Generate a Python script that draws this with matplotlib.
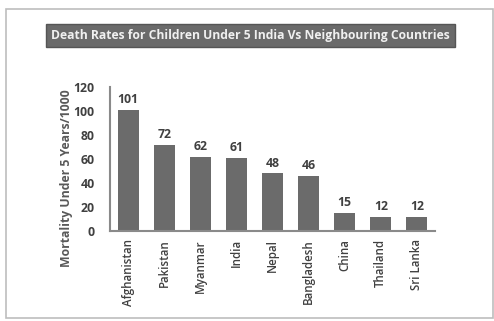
import matplotlib
matplotlib.use("Agg")
import matplotlib.pyplot as plt
from matplotlib.patches import Rectangle

# data
countries = ["Afghanistan", "Pakistan", "Myanmar", "India", "Nepal",
             "Bangladesh", "China", "Thailand", "Sri Lanka"]
mortality = [101, 72, 62, 61, 48, 46, 15, 12, 12]
yticks = [0, 20, 40, 60, 80, 100, 120]

plt.rcParams['font.family'] = ['Open Sans', 'DejaVu Sans']

fig = plt.figure(figsize=(4.94, 3.21), dpi=100)
fig.patch.set_facecolor("white")

# outer frame like the screenshot
fig.patches.append(Rectangle((6/494, 1-318/321), 487/494, 309/321,
                             transform=fig.transFigure, fill=False,
                             edgecolor="#bdbdbd", linewidth=1.2))

ax = fig.add_axes([110/494, 1-231/321, 325/494, 144/321])
x = range(len(countries))
bars = ax.bar(x, mortality, width=0.58, color="#6b6b6b")
for i, v in enumerate(mortality):
    ax.text(i, v + 3, str(v), ha="center", va="bottom", fontsize=8.8,
            fontweight="bold", color="#404040")

ax.set_xlim(-0.5, len(countries) - 0.5)
ax.set_ylim(0, 120)
ax.set_yticks(yticks)
ax.set_yticklabels([str(t) for t in yticks], fontsize=8.8, fontweight="bold",
                   color="#404040")
ax.set_xticks(list(x))
ax.set_xticklabels(countries, rotation=90, fontsize=8.3, fontweight="semibold",
                   color="#404040")
ax.tick_params(length=0, pad=6)
ax.tick_params(axis="y", pad=11)
ax.set_ylabel("Mortality Under 5 Years/1000", fontsize=8.8, fontweight="bold",
              color="#595959")
ax.yaxis.set_label_coords(-0.115, 0.37)

for s in ["top", "right"]:
    ax.spines[s].set_visible(False)
for s in ["left", "bottom"]:
    ax.spines[s].set_color("#8a8a8a")
    ax.spines[s].set_linewidth(1.5)

# title in a dark box
fig.text(250.5/494, 1-35.5/321,
         "Death Rates for Children Under 5 India Vs Neighbouring Countries",
         ha="center", va="center", fontsize=8.7, fontweight="bold",
         color="#f0f0f0",
         bbox=dict(boxstyle="square,pad=0.42", facecolor="#6a6a6a",
                   edgecolor="#555555"))

fig.savefig("out.png", dpi=100)
